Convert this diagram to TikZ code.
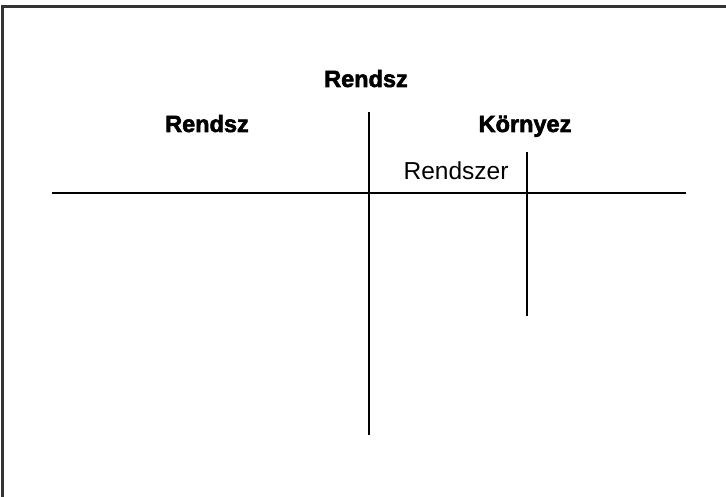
\documentclass[tikz,border=0pt]{standalone}
\usepackage{fontspec}
\setmainfont{Liberation Sans}
\newfontfamily\heavyfont[FakeBold=2.5]{Liberation Sans Bold}
\begin{document}
\begin{tikzpicture}[x=1pt,y=-1pt,
  head/.style={font=\fontsize{23.5}{27}\heavyfont, anchor=base, inner sep=0pt},
  plain/.style={font=\fontsize{24.5}{28}\selectfont, anchor=base, inner sep=0pt},
  rule/.style={line width=2.4pt, black},
  frame/.style={line width=2.2pt, black!80}]
\useasboundingbox (0,0) rectangle (726,497);
\draw[frame] (2.5,497) -- (2.5,6.5) -- (726,6.5);
\node[head] (top) at (366,87) {Rendsz};
\node[head] (left) at (207,132) {Rendsz};
\node[head] (right) at (525,132) {Környez};
\node[plain] (sub) at (456,180) {Rendszer};
\coordinate (h1) at (52,193);
\coordinate (h2) at (686,193);
\coordinate (v1a) at (369,112);
\coordinate (v1b) at (369,435);
\coordinate (v2a) at (527,152);
\coordinate (v2b) at (527,316);
\draw[rule] (h1) -- (h2);
\draw[rule] (v1a) -- (v1b);
\draw[rule] (v2a) -- (v2b);
\end{tikzpicture}
\end{document}
